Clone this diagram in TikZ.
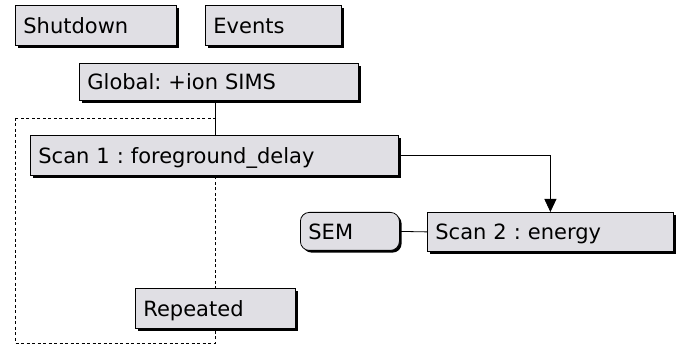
\documentclass[tikz,border=0pt]{standalone}
\usepackage{fontspec}
\setmainfont{DejaVu Sans}
\usetikzlibrary{arrows.meta}
\usetikzlibrary{shadows}
\definecolor{panelgray}{HTML}{E0DFE4}

\tikzset{
  panel/.style={draw, fill=panelgray, anchor=north west,
    inner xsep=8pt, inner ysep=0pt, text height=15.5pt, text depth=0pt,
    font=\fontsize{21}{24}\selectfont\frenchspacing,
    drop shadow={shadow xshift=2.2pt, shadow yshift=-2.2pt, fill=black, opacity=1}},
  repeatbox/.style={draw, dash pattern=on 3pt off 2.5pt},
  link/.style={draw, line width=0.8pt}
}

\begin{document}
\begin{tikzpicture}[x=1pt, y=-1pt, line width=0.8pt]
  \useasboundingbox (0,0) rectangle (680,347);

  % repeated block outline
  \draw[repeatbox] (15,118) rectangle (215,343);
  \coordinate (jx) at (215,0);

  \node[panel, text width=145pt, minimum height=40pt] (shutdown) at (15,5) {Shutdown};
  \node[panel, text width=120pt, minimum height=40pt] (events) at (205,5) {Events};
  \node[panel, text width=263pt, minimum height=37pt] (global) at (79,63) {Global: +ion SIMS};
  \node[panel, text width=352pt, minimum height=40pt] (scan1) at (30,135) {Scan 1 : foreground\_delay};
  \node[panel, text width=230pt, minimum height=39pt] (scan2) at (427,212) {Scan 2 : energy};
  \node[panel, text width=83pt, minimum height=38pt, rounded corners=9pt] (sem) at (300,212) {SEM};
  \node[panel, text width=144pt, minimum height=40pt] (repeated) at (135,288) {Repeated};

  \draw (global.south -| jx) -- (scan1.north -| jx);
  \draw[-{Triangle[length=13pt,width=12pt]}] (scan1.east) -| (scan2.north);
  \draw (sem.east) -- (scan2.west);
\end{tikzpicture}
\end{document}
